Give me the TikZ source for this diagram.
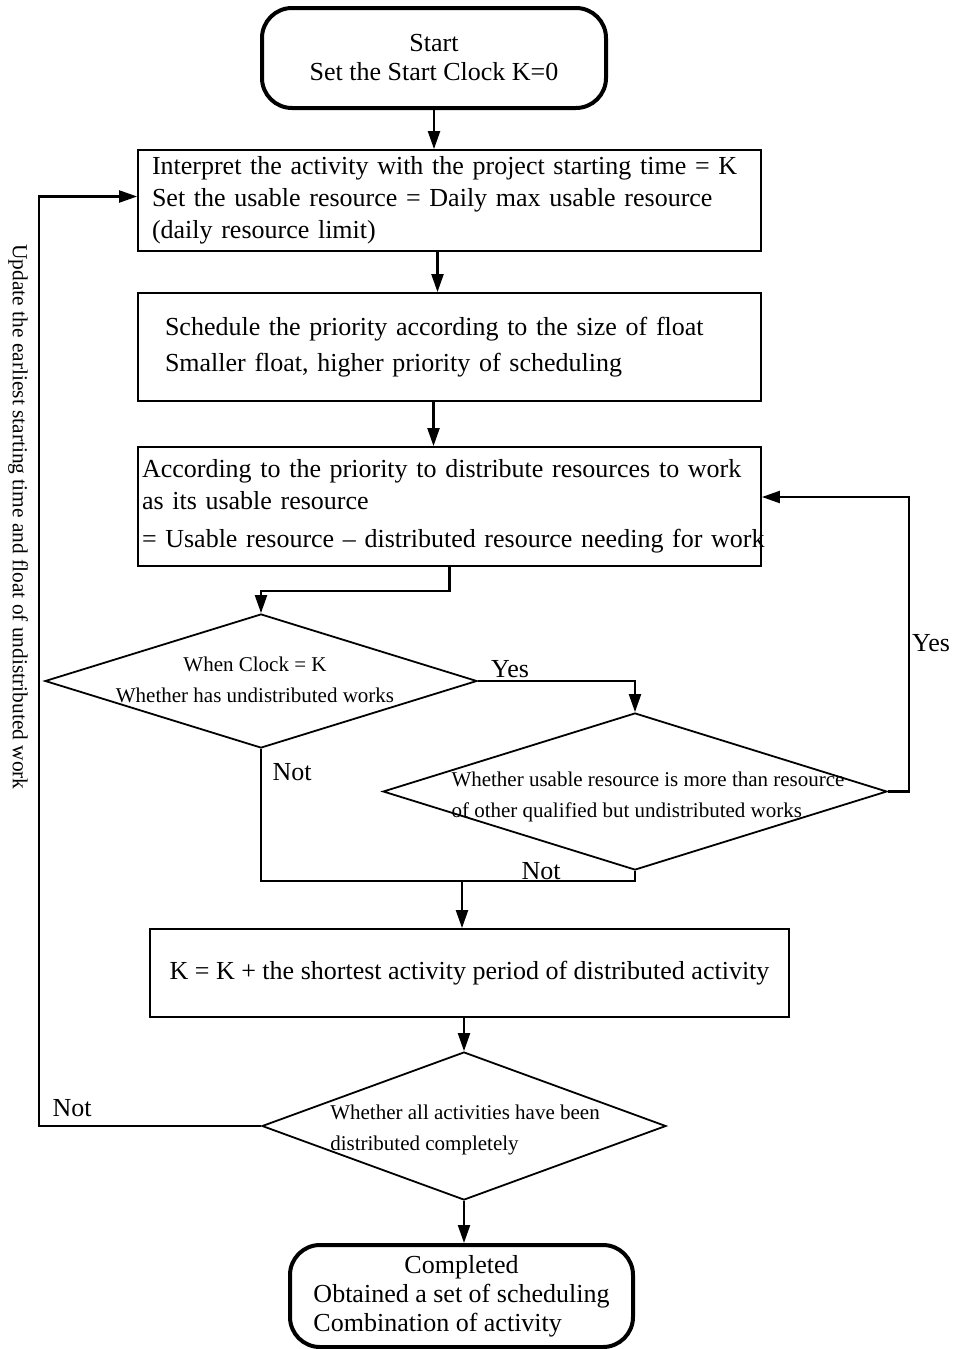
\documentclass[tikz,border=0pt]{standalone}
\usepackage{fontspec}
\setmainfont{Liberation Serif}
\usetikzlibrary{arrows.meta,shapes.geometric}
\tikzset{
  terminal/.style={
    rounded corners=15pt,
    draw,
    line width=2pt,
    align=center,
    minimum width=172pt,
    minimum height=50pt,
    inner sep=3pt,
    font=\fontsize{13}{14.5}\selectfont
  },
  process/.style={
    draw,
    line width=.9pt,
    align=left,
    minimum height=50pt,
    inner xsep=7pt,
    text width=297.5pt,
    font=\fontsize{13}{16}\selectfont
  },
  decision/.style={
    diamond,
    draw,
    line width=.9pt,
    inner sep=0pt
  },
  query/.style={
    align=left,
    font=\fontsize{10.5}{15.5}\selectfont
  },
  tag/.style={
    font=\fontsize{13}{15}\selectfont
  },
  arrow/.style={
    -{Triangle[length=9pt,width=6pt]},
    line width=1.1pt
  }
}

\begin{document}
\begin{tikzpicture}[x=0.5pt,y=-0.5pt]
\useasboundingbox (0,0) rectangle (953,1349);
% boxes
\node[terminal] (start) at (434,58) {Start\\Set the Start Clock K=0};
\node[process, minimum height=50.5pt] (init) at (449.5,200.5)
  {\mbox{Interpret the activity with the project starting time = K}\\Set the usable resource = Daily max usable resource\\(daily resource limit)};
\node[process, minimum height=54pt, inner xsep=13.5pt, text width=284.5pt, font=\fontsize{13}{18}\selectfont] (prio) at (449.5,347)
  {Schedule the priority according to the size of float\\Smaller float, higher priority of scheduling};
\node[process, minimum height=59.5pt, inner xsep=2pt, text width=307.5pt] (alloc) at (449.5,506.5)
  {\mbox{According to the priority to distribute resources to work}\\as its usable resource\\[3pt]\mbox{= Usable resource – distributed resource needing for work}};
\node[decision, minimum width=216pt, minimum height=67pt] (clock) at (261,681) {};
\node[query, align=center] (clocktxt) at (255,680) {When Clock = K\\Whether has undistributed works};
\node[decision, minimum width=252pt, minimum height=78.5pt] (enough) at (635,791.5) {};
\node[query] (enoughtxt) at (648,797) {Whether usable resource is more than resource\\of other qualified but undistributed works};
\node[process, align=center, text width={}, minimum width=319.5pt, minimum height=44pt] (advance) at (469.5,973)
  {K = K + the shortest activity period of distributed activity};
\node[decision, minimum width=202pt, minimum height=74pt] (alldone) at (464,1126) {};
\node[query] (alldonetxt) at (465,1130) {Whether all activities have been\\distributed completely};
\node[terminal, minimum width=171.5pt, minimum height=51pt] (finish) at (461.5,1296)
  {Completed\\Obtained a set of scheduling\\\rlap{Combination of activity}\phantom{Obtained a set of scheduling}};
% connectors
\draw[arrow] (start.south) -- (start.south |- init.north);
\draw[arrow] ([xshift=-6pt]init.south) -- ([xshift=-6pt]init.south |- prio.north);
\draw[arrow] ([xshift=-8pt]prio.south) -- ([xshift=-8pt]prio.south |- alloc.north);
\draw[arrow] (alloc.south) -- ++(0,24) -| (clock.north);
\draw[arrow] (clock.east) -| (enough.north);
\draw[arrow] (enough.east) -- ++(21,0) |- ([yshift=4.75pt]alloc.east);
\coordinate (merge) at (462,881);
\draw[line width=1.1pt] (clock.south) |- (enough.south |- merge) -- (enough.south);
\draw[arrow] (merge) -- (advance.north -| merge);
\draw[arrow] (alldone.north |- advance.south) -- (alldone.north);
\draw[arrow] (alldone.south) -- (finish.north -| alldone.south);
\draw[arrow] (alldone.west) -| ([xshift=-49pt,yshift=2pt]init.west) -- ([yshift=2pt]init.west);
% labels
\node[tag] (yesleft) at (510,669) {Yes};
\node[tag] (yesright) at (931,643) {Yes};
\node[tag] (notleft) at (292,772) {Not};
\node[tag] (notmid) at (541,871) {Not};
\node[tag] (notback) at (72,1108) {Not};
\node[rotate=-90, font=\fontsize{10.7}{12}\selectfont] (update) at (18,517)
  {Update the earliest starting time and float of undistributed work};
\end{tikzpicture}
\end{document}
